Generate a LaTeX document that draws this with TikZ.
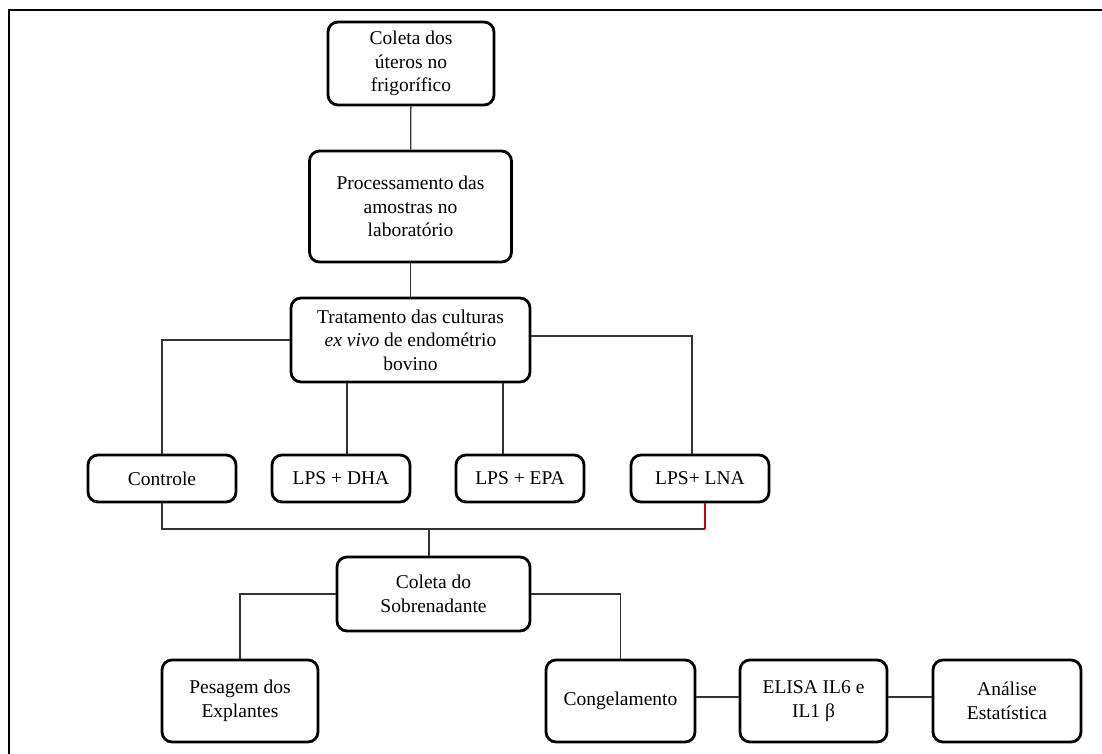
\documentclass[tikz,border=0pt]{standalone}
\usepackage{fontspec}
\setmainfont{Liberation Serif}
\begin{document}
\begin{tikzpicture}[x=1pt,y=1pt,
    etapa/.style={draw, line width=2.8pt, rounded corners=10pt, align=center,
        inner sep=2pt, font=\fontsize{19.5}{23.5}\selectfont},
    ligacao/.style={line width=1.3pt, black!80}]
    \def\Lx{1102}
    \def\Ly{753}
    \useasboundingbox (0,0) rectangle (\Lx,-\Ly);
    \clip (0,0) rectangle (\Lx,-\Ly);

    % Moldura
    \draw[line width=2.6pt] (9,-\Ly-50) |- (\Lx+50,-10);

    % Etapas iniciais
    \node[etapa, minimum width=166pt, minimum height=83pt] (coleta) at (411,-63.5)
        {Coleta dos\\úteros no\\frigorífico};
    \node[etapa, minimum width=202pt, minimum height=111pt] (proc) at (410.5,-206.5)
        {Processamento das\\amostras no\\laboratório};
    \node[etapa, minimum width=239pt, minimum height=84pt] (trat) at (410.5,-340)
        {Tratamento das culturas\\\textit{ex vivo} de endométrio\\bovino};

    % Tratamentos
    \foreach \nome/\x/\w/\texto in {controle/162/148/Controle, dha/341/138/LPS + DHA,
            epa/520/128/LPS + EPA, lna/700/138/LPS+ LNA} {
        \node[etapa, minimum width=\w pt, minimum height=47pt] (\nome) at (\x,-478.5) {\texto};
    }

    % Coleta e etapas finais
    \node[etapa, minimum width=193pt, minimum height=74pt] (sobren) at (433.5,-594)
        {Coleta do\\Sobrenadante};
    \node[etapa, minimum width=156pt, minimum height=82pt] (pesagem) at (240,-701)
        {Pesagem dos\\Explantes};
    \node[etapa, minimum width=149pt, minimum height=82pt] (cong) at (620.5,-701)
        {Congelamento};
    \node[etapa, minimum width=147pt, minimum height=82pt] (elisa) at (813.5,-701)
        {ELISA IL6 e\\IL1 β};
    \node[etapa, minimum width=148pt, minimum height=82pt] (analise) at (1007,-701)
        {Análise\\Estatística};

    % Ligacoes
    \draw[ligacao] (coleta) -- (proc);
    \draw[ligacao] (proc) -- (trat);
    \draw[ligacao] (trat.west) -| (controle.north);
    \draw[ligacao] ([xshift=-63.5pt]trat.south) -- ([xshift=-63.5pt]trat.south |- dha.north);
    \draw[ligacao] ([xshift=92.5pt]trat.south) -- ([xshift=92.5pt]trat.south |- epa.north);
    \draw[ligacao] ([yshift=4pt]trat.east) -| ([xshift=-8pt]lna.north);

    \coordinate (barra) at (429,-529);
    \draw[ligacao] (controle.south) |- ([xshift=5pt]lna.south |- barra);
    \draw[ligacao, red!80!black] ([xshift=5pt]lna.south) -- ([xshift=5pt]lna.south |- barra);
    \draw[ligacao] (barra) -- (barra |- sobren.north);

    \draw[ligacao] (sobren.west) -| (pesagem.north);
    \draw[ligacao] (sobren.east) -| (cong.north);
    \draw[ligacao] ([yshift=4pt]cong.east) -- ([yshift=4pt]elisa.west);
    \draw[ligacao] ([yshift=4pt]elisa.east) -- ([yshift=4pt]analise.west);

\end{tikzpicture}
\end{document}
